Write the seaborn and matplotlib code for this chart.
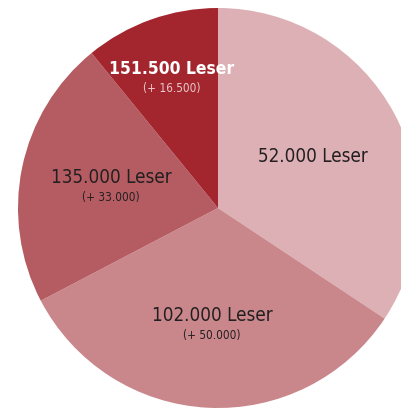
import matplotlib
matplotlib.use("Agg")
import matplotlib.pyplot as plt
import seaborn as sns
import numpy as np

# Leserzahlen (Zuwachs je Stufe)
increments = [52000, 50000, 33000, 16500]
main_labels = ["52.000 Leser", "102.000 Leser", "135.000 Leser", "151.500 Leser"]
sub_labels = ["", "(+ 50.000)", "(+ 33.000)", "(+ 16.500)"]
colors = ["#dcb0b5", "#c9878c", "#b55c63", "#a3262e"]

sns.set_theme(style="white")
plt.rcParams['font.family'] = ['DejaVu Sans']
plt.rcParams['font.stretch'] = 'condensed'

fig = plt.figure(figsize=(4.02, 4.08), dpi=100)
ax = fig.add_axes([0, 0, 1, 1])

wedges, _ = ax.pie(increments, colors=colors, startangle=90, counterclock=False,
                   radius=1.0, wedgeprops=dict(linewidth=0))
ax.set_xlim(-1.09, 0.92)
ax.set_ylim(-1.0, 1.04)
ax.set_aspect('auto')
ax.axis('off')

# label placement along the wedge mid-angle
label_r = [0.54, 0.585, 0.545, 0.69]
main_colors = ["#231f20", "#231f20", "#231f20", "white"]
sub_colors = ["#231f20", "#231f20", "#231f20", "#ecc9cc"]
weights = ["normal", "normal", "normal", "bold"]
sizes = [13.5, 13.5, 13.5, 12.5]
for w, r, ml, sl, mc, sc, fw, fs in zip(wedges, label_r, main_labels, sub_labels,
                                        main_colors, sub_colors, weights, sizes):
    mid = np.deg2rad((w.theta1 + w.theta2) / 2)
    x, y = r * np.cos(mid), r * np.sin(mid)
    if sl:
        ax.text(x, y + 0.045, ml, ha='center', va='center', fontsize=fs,
                color=mc, fontweight=fw, fontstretch='condensed')
        ax.text(x, y - 0.055, sl, ha='center', va='center', fontsize=8.5,
                color=sc, fontstretch='condensed')
    else:
        ax.text(x, y, ml, ha='center', va='center', fontsize=fs, color=mc,
                fontweight=fw, fontstretch='condensed')

plt.savefig("out.png", dpi=100, facecolor="white")
